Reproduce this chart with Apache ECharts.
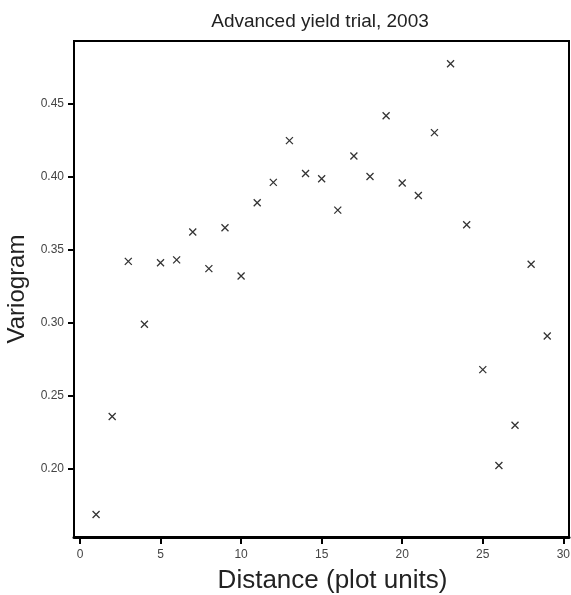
<!DOCTYPE html>
<html>
<head>
<meta charset="utf-8">
<title>Advanced yield trial, 2003</title>
<script src="https://cdn.jsdelivr.net/npm/echarts@6/dist/echarts.min.js"></script>
<style>
  html, body { margin: 0; padding: 0; background: #fff; }
  #chart { width: 571px; height: 595px; }
</style>
</head>
<body>
<div id="chart"></div>
<script>
// distance (plot units) and empirical variogram values
const distance = [1, 2, 3, 4, 5, 6, 7, 8, 9, 10, 11, 12, 13, 14, 15,
  16, 17, 18, 19, 20, 21, 22, 23, 24, 25, 26, 27, 28, 29];
const variogram = [0.169, 0.236, 0.342, 0.299, 0.341, 0.343, 0.362, 0.337, 0.365, 0.332,
  0.382, 0.396, 0.4245, 0.402, 0.3985, 0.377, 0.414, 0.400, 0.4415, 0.3956,
  0.387, 0.430, 0.477, 0.367, 0.268, 0.2025, 0.230, 0.340, 0.291];
const xTicks = [0, 5, 10, 15, 20, 25, 30];
const yTicks = [0.20, 0.25, 0.30, 0.35, 0.40, 0.45];

const points = distance.map((d, i) => [d, variogram[i]]);

const chart = echarts.init(document.getElementById("chart"));

const options = {
  animation: false,
  textStyle: { fontFamily: "Liberation Sans, Arial, sans-serif" },
  title: {
    text: "Advanced yield trial, 2003",
    left: 315,
    top: 7,
    textAlign: "center",
    textStyle: { fontSize: 19, fontWeight: "normal", color: "#222" },
  },
  grid: {
    left: 74,
    top: 41,
    right: 2,
    bottom: 58,
    containLabel: false,
    outerBoundsMode: "none",
    show: true,
    borderColor: "#000",
    borderWidth: 2,
  },
  xAxis: {
    type: "value",
    min: -0.37,
    max: 30.35,
    splitLine: { show: false },
    axisLine: { show: true, onZero: false, lineStyle: { color: "#000", width: 3 } },
    axisTick: { show: true, customValues: xTicks, length: 7, lineStyle: { color: "#000", width: 2 } },
    axisLabel: {
      customValues: xTicks,
      fontSize: 12,
      color: "#444",
      margin: 12,
      formatter: (v) => String(v),
    },
    name: "Distance (plot units)",
    nameLocation: "middle",
    nameGap: 31,
    nameTextStyle: { fontSize: 26, color: "#222", padding: [0, 0, 0, 22] },
  },
  yAxis: {
    type: "value",
    min: 0.1536,
    max: 0.4926,
    splitLine: { show: false },
    axisLine: { show: true, onZero: false, lineStyle: { color: "#000", width: 2 } },
    axisTick: { show: true, customValues: yTicks, length: 6, lineStyle: { color: "#000", width: 2 } },
    axisLabel: {
      customValues: yTicks,
      fontSize: 12,
      color: "#444",
      margin: 10,
      formatter: (v) => v.toFixed(2),
    },
    name: "Variogram",
    nameLocation: "middle",
    nameGap: 45,
    nameTextStyle: { fontSize: 24, color: "#222" },
  },
  series: [
    {
      type: "scatter",
      data: points,
      symbol: "path://M0,0L10,10M10,0L0,10",
      symbolSize: 7,
      itemStyle: { color: "none", borderColor: "#000", borderWidth: 1.3 },
    },
  ],
};

chart.setOption(options);
window.addEventListener("resize", () => chart.resize());
</script>
</body>
</html>
